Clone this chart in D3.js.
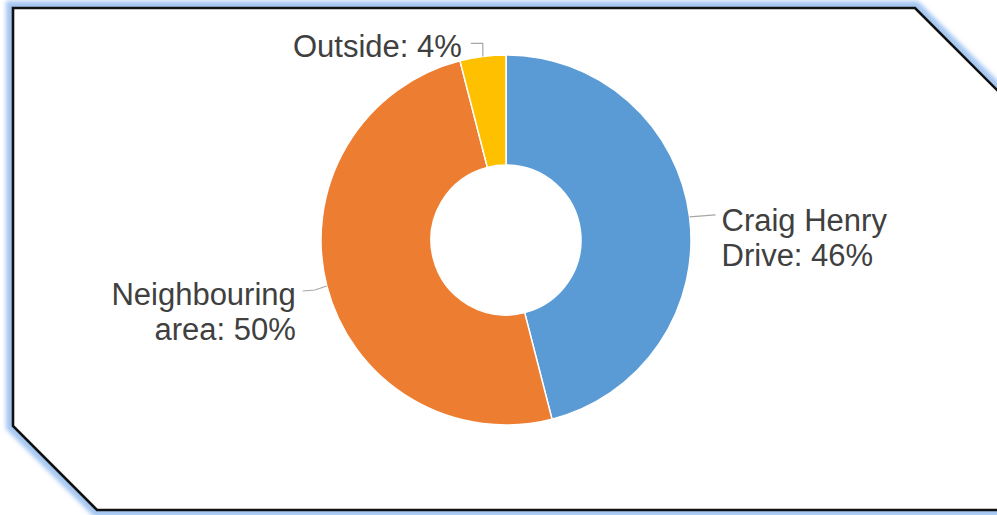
<!DOCTYPE html>
<html>
<head>
<meta charset="utf-8">
<script src="https://cdn.jsdelivr.net/npm/d3@7/dist/d3.min.js"></script>
<style>
  html, body { margin: 0; padding: 0; background: #fff; }
  svg { display: block; }
  text { font-family: "Liberation Sans", Arial, sans-serif; }
</style>
</head>
<body>
<svg id="chart" width="997" height="515"></svg>
<script>
// ---- data ----
const categories = ["Craig Henry Drive", "Neighbouring area", "Outside"];
const labelLines = [["Craig Henry", "Drive: 46%"], ["Neighbouring", "area: 50%"], ["Outside: 4%"]];
const values = [46, 50, 4];
const colors = ["#5b9bd5", "#ed7d31", "#ffc000"];

const W = 997, H = 515;
const svg = d3.select("#chart");

// ---- frame with glow ----
const defs = svg.append("defs");
const f = defs.append("filter").attr("id", "glow").attr("x", "-10%").attr("y", "-10%").attr("width", "120%").attr("height", "120%");
f.append("feGaussianBlur").attr("stdDeviation", 2.2);

const frame = [[13, 8], [915, 8], [1002, 95], [1002, 510], [97, 510], [13, 426]];
const line = d3.line();
svg.append("path").attr("d", line(frame) + "Z")
  .attr("fill", "none").attr("stroke", "#a4c6f1").attr("stroke-width", 14)
  .attr("stroke-linejoin", "miter").attr("filter", "url(#glow)");
svg.append("path").attr("d", line(frame) + "Z")
  .attr("fill", "#ffffff").attr("stroke", "none");
svg.append("path").attr("d", line(frame) + "Z")
  .attr("fill", "none").attr("stroke", "#111").attr("stroke-width", 2.6)
  .attr("stroke-linejoin", "miter");

// ---- donut ----
const cx = 506, cy = 240, rOuter = 185, rInner = 75;
const g = svg.append("g").attr("transform", `translate(${cx},${cy})`);
const pie = d3.pie().sort(null).value(d => d);
const arcs = pie(values);
const arc = d3.arc().innerRadius(rInner).outerRadius(rOuter);

g.selectAll("path.slice").data(arcs).enter().append("path")
  .attr("class", "slice")
  .attr("d", arc)
  .attr("fill", (d, i) => colors[i])
  .attr("stroke", "#fff").attr("stroke-width", 1.5);

// ---- labels & leader lines ----
const edge = d => {
  const a = (d.startAngle + d.endAngle) / 2;
  return [rOuter * Math.sin(a), -rOuter * Math.cos(a)];
};
const leaderOffsets = [
  [[0, 0], [26, -2]],
  [[0, 0], [-12, 4], [-24, 5]],
  [[0, 0], [0, -13], [-12, -13]]
];
const textPos = [
  { dx: 32, dy: 14, anchor: "start" },
  { dx: -31, dy: 19, anchor: "end" },
  { dx: -21, dy: 1, anchor: "end" }
];
const fontSize = 31, lineH = 35;

arcs.forEach((d, i) => {
  const [ex, ey] = edge(d);
  const pts = leaderOffsets[i].map(o => [ex + o[0], ey + o[1]]);
  g.append("path").attr("d", line(pts))
    .attr("fill", "none").attr("stroke", "#a6a6a6").attr("stroke-width", 1.2);
  const tp = textPos[i];
  const lines = labelLines[i];
  const t = g.append("text")
    .attr("text-anchor", tp.anchor)
    .attr("font-size", fontSize)
    .attr("fill", "#404040");
  lines.forEach((s, k) => {
    t.append("tspan")
      .attr("x", ex + tp.dx)
      .attr("y", ey + tp.dy + k * lineH)
      .text(s);
  });
});
</script>
</body>
</html>
